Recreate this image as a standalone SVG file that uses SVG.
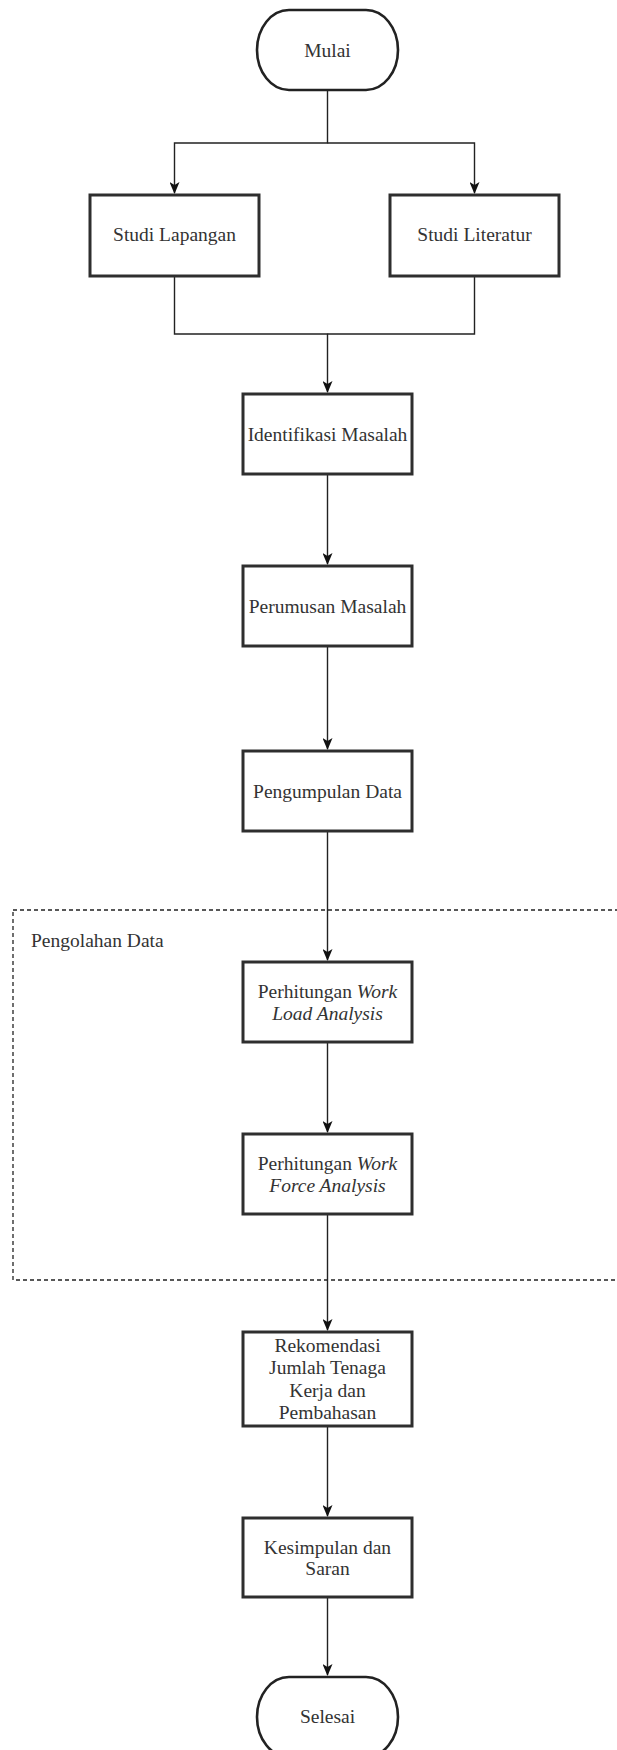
<svg xmlns="http://www.w3.org/2000/svg" width="617" height="1750" viewBox="0 0 617 1750">
<style>
.box{fill:#fff;stroke:#2e2e2e;stroke-width:3}
.term{fill:#fff;stroke:#222;stroke-width:2.6}
.lbl{font-family:"Liberation Serif","Times New Roman",serif;font-size:19.5px;fill:#333;text-anchor:middle}
.grp{font-family:"Liberation Serif","Times New Roman",serif;font-size:19.5px;fill:#333}
.it{font-style:italic}
.edge{fill:none;stroke:#222;stroke-width:1.4}
.arr{marker-end:url(#ah)}
.dash{fill:none;stroke:#222;stroke-width:1.3;stroke-dasharray:4 3}
</style>
<defs>
<marker id="ah" viewBox="0 0 12 10" refX="11" refY="5" markerWidth="12" markerHeight="10" markerUnits="userSpaceOnUse" orient="auto">
<path d="M0,0 L12,5 L0,10 L3,5 Z" fill="#111"/>
</marker>
</defs>
<rect width="617" height="1750" fill="#fff"/>
<g id="group-pengolahan">
<rect class="dash" x="13" y="910" width="620" height="370"/>
<text class="grp" x="31" y="947">Pengolahan Data</text>
</g>
<g id="connectors">
<path class="edge arr" d="M327.5,90 V143 H174.5 V193"/>
<path class="edge arr" d="M327.5,143 H474.5 V193"/>
<path class="edge arr" d="M174.5,276 V334 H327.5 V392"/>
<path class="edge" d="M474.5,276 V334 H327.5"/>
<path class="edge arr" d="M327.5,474 V564"/>
<path class="edge arr" d="M327.5,646 V749"/>
<path class="edge arr" d="M327.5,831 V960"/>
<path class="edge arr" d="M327.5,1042 V1132"/>
<path class="edge arr" d="M327.5,1214 V1330"/>
<path class="edge arr" d="M327.5,1426 V1516"/>
<path class="edge arr" d="M327.5,1597 V1675"/>
</g>
<g id="mulai">
<rect class="term" x="257" y="10" width="141" height="80" rx="32" ry="40"/>
<text class="lbl" x="327.5" y="56.5">Mulai</text>
</g>
<g id="studi-lapangan">
<rect class="box" x="90" y="195" width="169" height="81"/>
<text class="lbl" x="174.5" y="241">Studi Lapangan</text>
</g>
<g id="studi-literatur">
<rect class="box" x="390" y="195" width="169" height="81"/>
<text class="lbl" x="474.5" y="241">Studi Literatur</text>
</g>
<g id="identifikasi">
<rect class="box" x="243" y="394" width="169" height="80"/>
<text class="lbl" x="327.5" y="440.5">Identifikasi Masalah</text>
</g>
<g id="perumusan">
<rect class="box" x="243" y="566" width="169" height="80"/>
<text class="lbl" x="327.5" y="612.5">Perumusan Masalah</text>
</g>
<g id="pengumpulan">
<rect class="box" x="243" y="751" width="169" height="80"/>
<text class="lbl" x="327.5" y="797.5">Pengumpulan Data</text>
</g>
<g id="wla">
<rect class="box" x="243" y="962" width="169" height="80"/>
<text class="lbl"><tspan x="327.5" y="997.5">Perhitungan <tspan class="it">Work</tspan></tspan><tspan class="it" x="327.5" y="1019.5">Load Analysis</tspan></text>
</g>
<g id="wfa">
<rect class="box" x="243" y="1134" width="169" height="80"/>
<text class="lbl"><tspan x="327.5" y="1169.5">Perhitungan <tspan class="it">Work</tspan></tspan><tspan class="it" x="327.5" y="1191.5">Force Analysis</tspan></text>
</g>
<g id="rekomendasi">
<rect class="box" x="243" y="1332" width="169" height="94"/>
<text class="lbl"><tspan x="327.5" y="1351.5">Rekomendasi</tspan><tspan x="327.5" y="1374">Jumlah Tenaga</tspan><tspan x="327.5" y="1396.5">Kerja dan</tspan><tspan x="327.5" y="1418.5">Pembahasan</tspan></text>
</g>
<g id="kesimpulan">
<rect class="box" x="243" y="1518" width="169" height="79"/>
<text class="lbl"><tspan x="327.5" y="1553.5">Kesimpulan dan</tspan><tspan x="327.5" y="1575">Saran</tspan></text>
</g>
<g id="selesai">
<rect class="term" x="257" y="1677" width="141" height="80" rx="32" ry="40"/>
<text class="lbl" x="327.5" y="1722.5">Selesai</text>
</g>
</svg>
